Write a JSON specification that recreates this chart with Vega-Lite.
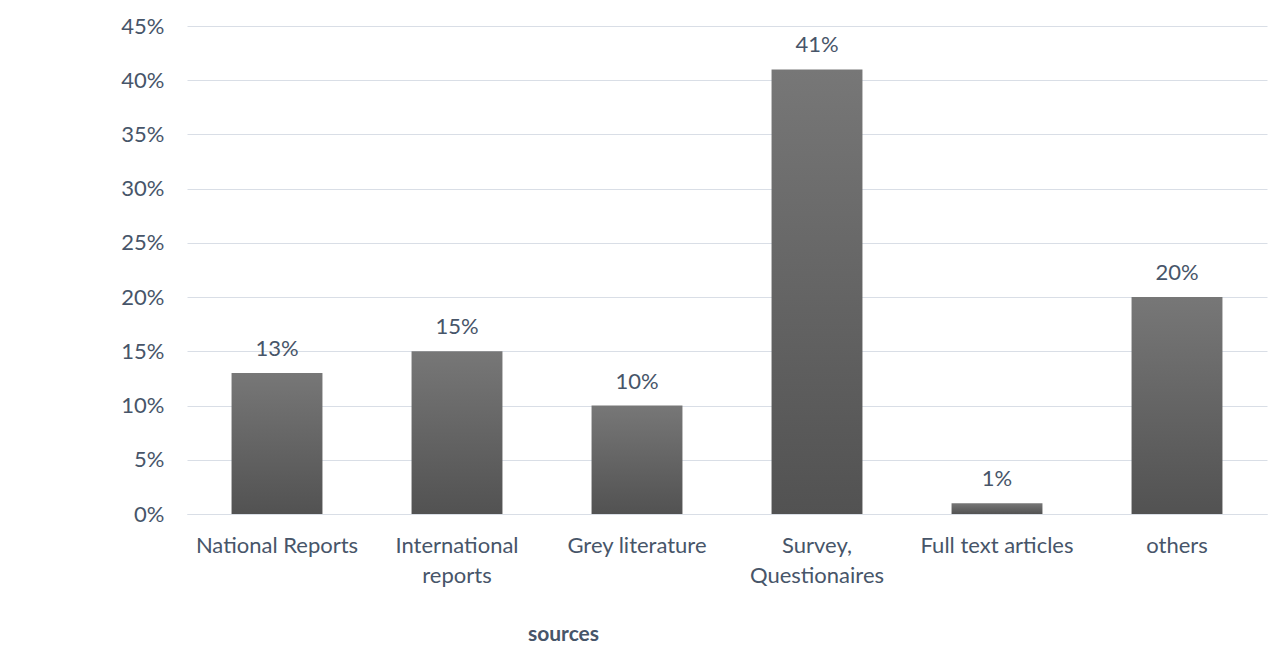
{
  "$schema": "https://vega.github.io/schema/vega-lite/v6.json",
  "width": 1080,
  "height": 488,
  "autosize": {"type": "none"},
  "padding": {"left": 187, "top": 26, "right": 18, "bottom": 137},
  "background": "white",
  "config": {
    "view": {"stroke": null},
    "font": "Lato",
    "text": {"font": "Lato"}
  },
  "data": {
    "values": [
      {"source": "National Reports", "share": 0.13},
      {"source": "International reports", "share": 0.15},
      {"source": "Grey literature", "share": 0.10},
      {"source": "Survey, Questionaires", "share": 0.41},
      {"source": "Full text articles", "share": 0.01},
      {"source": "others", "share": 0.20}
    ]
  },
  "encoding": {
    "x": {
      "field": "source",
      "type": "nominal",
      "sort": null,
      "scale": {"paddingInner": 0.495, "paddingOuter": 0.2475},
      "axis": {
        "title": "sources",
        "titleFont": "Lato",
        "titleFontSize": 21,
        "titleFontWeight": "bold",
        "titleColor": "#475569",
        "titleX": 376,
        "titleY": 120,
        "titleBaseline": "middle",
        "titleAnchor": "start",
        "titleAlign": "center",
        "labelFont": "Lato",
        "labelFontSize": 22,
        "labelColor": "#475569",
        "labelAngle": 0,
        "labelPadding": 31,
        "labelLineHeight": 30,
        "labelBaseline": "middle",
        "labelExpr": "datum.label == 'Survey, Questionaires' ? ['Survey,', 'Questionaires'] : datum.label == 'International reports' ? ['International', 'reports'] : datum.label",
        "ticks": false,
        "tickSize": 0,
        "domainColor": "#D9DEE6",
        "domainWidth": 1
      }
    },
    "y": {
      "field": "share",
      "type": "quantitative",
      "scale": {"domain": [0, 0.45]},
      "axis": {
        "title": null,
        "format": ".0%",
        "values": [0, 0.05, 0.1, 0.15, 0.2, 0.25, 0.3, 0.35, 0.4, 0.45],
        "labelFont": "Lato",
        "labelFontSize": 22,
        "labelColor": "#475569",
        "labelPadding": 23,
        "ticks": false,
        "tickSize": 0,
        "domain": false,
        "gridColor": "#D9DEE6",
        "gridWidth": 1
      }
    }
  },
  "layer": [
    {
      "mark": {
        "type": "bar",
        "color": {
          "gradient": "linear",
          "x1": 0, "y1": 0, "x2": 0, "y2": 1,
          "stops": [
            {"offset": 0, "color": "#777777"},
            {"offset": 1, "color": "#525252"}
          ]
        }
      }
    },
    {
      "mark": {
        "type": "text",
        "font": "Lato",
        "fontSize": 22,
        "color": "#475569",
        "baseline": "alphabetic",
        "dy": -17
      },
      "encoding": {
        "text": {"field": "share", "type": "quantitative", "format": ".0%"}
      }
    }
  ]
}
